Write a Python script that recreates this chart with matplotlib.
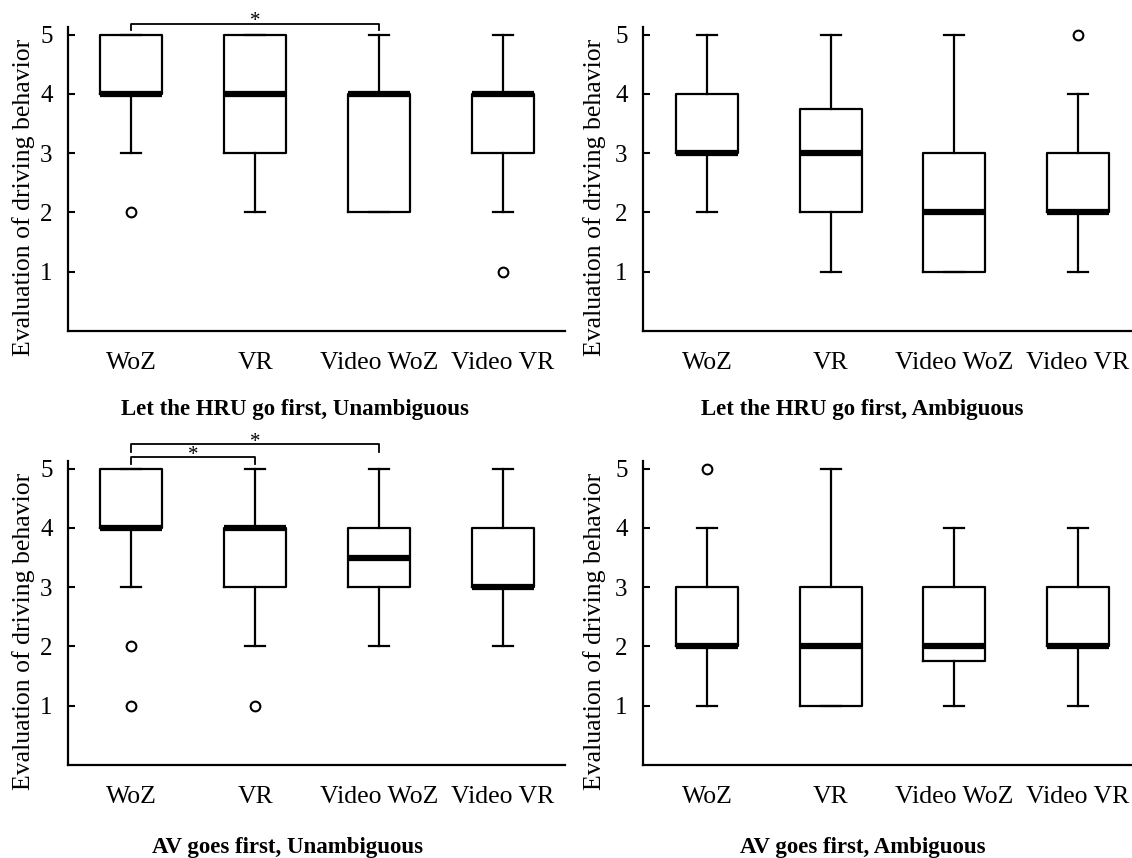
import numpy as np
import matplotlib
matplotlib.use('Agg')
import matplotlib.pyplot as plt

plt.rcParams['font.family'] = ['Liberation Serif', 'DejaVu Serif']

groups = ['WoZ', 'VR', 'Video WoZ', 'Video VR']
titles = ['Let the HRU go first, Unambiguous', 'Let the HRU go first, Ambiguous',
          'AV goes first, Unambiguous', 'AV goes first, Ambiguous']

# box statistics, one row per panel
q1 = [[4, 3, 2, 3], [3, 2, 1, 2], [4, 3, 3, 3], [2, 1, 1.75, 2]]
med = [[4, 4, 4, 4], [3, 3, 2, 2], [4, 4, 3.5, 3], [2, 2, 2, 2]]
q3 = [[5, 5, 4, 4], [4, 3.75, 3, 3], [5, 4, 4, 4], [3, 3, 3, 3]]
whislo = [[3, 2, 2, 2], [2, 1, 1, 1], [3, 2, 2, 2], [1, 1, 1, 1]]
whishi = [[5, 5, 5, 5], [5, 5, 5, 4], [5, 5, 5, 5], [4, 5, 4, 4]]
fliers = [[[2], [], [], [1]], [[], [], [], [5]], [[2, 1], [1], [], []], [[5], [], [], []]]

# significance brackets: panel -> (group a, group b, height, drop)
sig = {0: [(1, 3, 5.18, 0.10)], 2: [(1, 2, 5.19, 0.11), (1, 3, 5.41, 0.12)]}

W, H = 1132, 858
# axes boxes in pixels: left, top, right, bottom
rects = [(68, 27, 565, 331), (643, 27, 1132, 331), (68, 461, 565, 765), (643, 461, 1132, 765)]
xlims = [(0.49, 4.5), (0.48, 4.44), (0.49, 4.5), (0.48, 4.44)]
title_pos = [(295, 410), (862, 410), (287, 847), (863, 847)]
ylab_x = [-0.066, -0.076, -0.066, -0.076]

fig = plt.figure(figsize=(W / 100, H / 100), dpi=100)

for p in range(4):
    l, t, r, b = rects[p]
    ax = fig.add_axes([l / W, 1 - b / H, (r - l) / W, (b - t) / H])
    stats = []
    for i in range(4):
        stats.append(dict(med=med[p][i], q1=q1[p][i], q3=q3[p][i],
                          whislo=whislo[p][i], whishi=whishi[p][i],
                          fliers=fliers[p][i], label=groups[i]))
    ax.bxp(stats, positions=[1, 2, 3, 4], widths=0.5, capwidths=0.16,
           boxprops=dict(color='black', linewidth=1.6),
           whiskerprops=dict(color='black', linewidth=1.6),
           capprops=dict(color='black', linewidth=1.6),
           medianprops=dict(color='black', linewidth=4.5, solid_capstyle='butt'),
           flierprops=dict(marker='o', markersize=7, markerfacecolor='none',
                           markeredgecolor='black', markeredgewidth=1.5))
    ax.set_xlim(*xlims[p])
    ax.set_ylim(0, 5.13)
    ax.set_yticks([1, 2, 3, 4, 5])
    ax.tick_params(axis='y', direction='in', length=5, width=1.5, labelsize=18, pad=11, colors='black')
    ax.tick_params(axis='x', length=0, labelsize=18.5, pad=15)
    ax.spines['top'].set_visible(False)
    ax.spines['right'].set_visible(False)
    ax.spines['left'].set_linewidth(1.6)
    ax.spines['bottom'].set_linewidth(1.6)
    ax.set_ylabel('Evaluation of driving behavior', fontsize=18.5)
    ax.yaxis.set_label_coords(ylab_x[p], 0.44)

    for a, bb, y, d in sig.get(p, []):
        ax.plot([a, a, bb, bb], [y - d, y, y, y - d], color='black', lw=1.3, clip_on=False)
        ax.text((a + bb) / 2, y - 0.12, '*', ha='center', va='bottom', fontsize=15)

    tx, ty = title_pos[p]
    fig.text(tx / W, 1 - ty / H, titles[p], ha='center', va='center', fontsize=16.5, fontweight='bold')

plt.savefig('out.png', dpi=100)
